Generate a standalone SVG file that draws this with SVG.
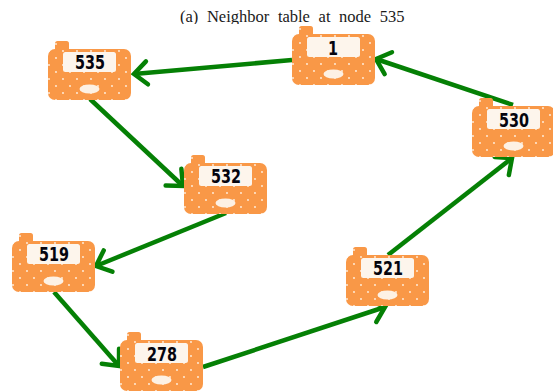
<svg xmlns="http://www.w3.org/2000/svg" width="553" height="392" viewBox="0 0 553 392">
<style>
.cap{font-family:"Liberation Serif","Times New Roman",serif;font-size:16.500px;fill:#1a1a1a;word-spacing:4.500px}
.num{font-family:"DejaVu Sans Condensed","DejaVu Sans",sans-serif;font-size:20px;font-weight:600;fill:#05050f;text-anchor:middle;stroke:none}
.link{fill:none;stroke:#058005;stroke-width:4.500;marker-end:url(#arrow)}
</style>
<defs>
<clipPath id="capclip"><rect x="170" y="0" width="250" height="24"/></clipPath>
<pattern id="dots" width="14" height="14" patternUnits="userSpaceOnUse">
<rect width="14" height="14" fill="#f99847"/>
<circle cx="1" cy="2" r="0.900" fill="#fff3e6"/>
<circle cx="8" cy="9" r="0.900" fill="#fff3e6"/>
</pattern>
<marker id="arrow" markerUnits="userSpaceOnUse" markerWidth="26" markerHeight="30" refX="21" refY="15" orient="auto" viewBox="0 0 26 30">
<path d="M8,3.500 L21,15 L8,26.500" fill="none" stroke="#058005" stroke-width="4.500" stroke-linecap="round" stroke-linejoin="miter"/>
</marker>
<g id="mote">
<rect x="7" y="-8" width="14" height="12" rx="2.500" fill="url(#dots)"/>
<rect x="0" y="0" width="83" height="51" rx="7" fill="url(#dots)"/>
<rect x="15" y="3" width="53" height="20" rx="2.500" fill="#fdf5ec"/>
<ellipse cx="41.500" cy="40" rx="10" ry="4.500" fill="#fdf1e4"/>
</g>
</defs>
<rect width="553" height="392" fill="#fff"/>
<text class="cap" x="180" y="21.500" clip-path="url(#capclip)">(a) Neighbor table at node 535</text>
<g id="connectors">
<path class="link" d="M292,60 L134,74"/>
<path class="link" d="M90,99 L183,186"/>
<path class="link" d="M226,213 L96,266"/>
<path class="link" d="M54,292 L119,366"/>
<path class="link" d="M203,367 L385,307"/>
<path class="link" d="M388,255 L512,158"/>
<path class="link" d="M513,105 L376,59"/>
</g>
<g id="node-535" transform="translate(48,49)"><use href="#mote"/><text class="num" x="42" y="20" textLength="30" lengthAdjust="spacingAndGlyphs">535</text></g>
<g id="node-1" transform="translate(292,34)"><use href="#mote"/><text class="num" x="41" y="21" textLength="10" lengthAdjust="spacingAndGlyphs">1</text></g>
<g id="node-530" transform="translate(472,106)"><use href="#mote"/><text class="num" x="42" y="21" textLength="30" lengthAdjust="spacingAndGlyphs">530</text></g>
<g id="node-532" transform="translate(184,163)"><use href="#mote"/><text class="num" x="42" y="20" textLength="30" lengthAdjust="spacingAndGlyphs">532</text></g>
<g id="node-519" transform="translate(12,241)"><use href="#mote"/><text class="num" x="42" y="20" textLength="30" lengthAdjust="spacingAndGlyphs">519</text></g>
<g id="node-521" transform="translate(346,255)"><use href="#mote"/><text class="num" x="42" y="20" textLength="30" lengthAdjust="spacingAndGlyphs">521</text></g>
<g id="node-278" transform="translate(120,340)"><use href="#mote"/><text class="num" x="42" y="21" textLength="30" lengthAdjust="spacingAndGlyphs">278</text></g>
</svg>
